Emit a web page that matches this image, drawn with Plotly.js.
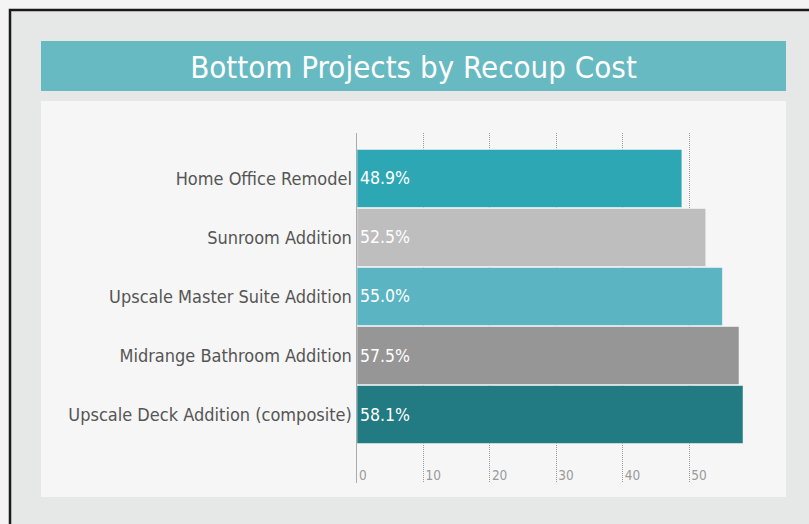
<!DOCTYPE html>
<html>
<head>
<meta charset="utf-8">
<script src="https://cdn.plot.ly/plotly-3.0.1.min.js"></script>
<style>
html,body{margin:0;padding:0;background:#f4f4f4;}
#chart{width:809px;height:524px;}
</style>
</head>
<body>
<div id="chart"></div>
<script>
const categories = [
  "Home Office Remodel",
  "Sunroom Addition",
  "Upscale Master Suite Addition",
  "Midrange Bathroom Addition",
  "Upscale Deck Addition (composite)"
];
const recoupValues = [48.9, 52.5, 55.0, 57.5, 58.1];
const barLabels = ["48.9%", "52.5%", "55.0%", "57.5%", "58.1%"];
const barColors = ["#2ea7b5", "#bebebe", "#5ab4c2", "#969696", "#227a82"];
const xTickValues = [0, 10, 20, 30, 40, 50];
const xTickLabels = ["0", "10", "20", "30", "40", "50"];
const chartTitle = "Bottom Projects by Recoup Cost";

const FW = 809, FH = 524;
const L = 357, R = 60, T = 133, B = 41;
const PW = FW - L - R, PH = FH - T - B;
const px = v => (v - L) / PW;
const py = v => 1 - (v - T) / PH;

const FONT = '"DejaVu Sans Condensed", "Liberation Sans Narrow", sans-serif';

const shapes = [
  {type:'rect', xref:'paper', yref:'paper', x0:px(10), x1:px(820), y0:py(10), y1:py(540),
   fillcolor:'#e6e8e8', line:{color:'#1a1a1a', width:2.5}, layer:'below'},
  {type:'rect', xref:'paper', yref:'paper', x0:px(41), x1:px(786), y0:py(41), y1:py(91),
   fillcolor:'#67b9c2', line:{width:0}, layer:'below'},
  {type:'rect', xref:'paper', yref:'paper', x0:px(41), x1:px(786), y0:py(101), y1:py(497),
   fillcolor:'#f6f6f6', line:{width:0}, layer:'below'}
];

const trace = {
  type: 'bar',
  orientation: 'h',
  y: categories,
  x: recoupValues,
  text: barLabels,
  textposition: 'inside',
  insidetextanchor: 'start',
  textangle: 0,
  textfont: {family: FONT, size: 17.5, color: '#ffffff'},
  marker: {color: barColors, line: {color: 'rgba(255,255,255,0.5)', width: 1}},
  hoverinfo: 'none',
  cliponaxis: false
};

const layout = {
  width: FW, height: FH,
  margin: {l: L, r: R, t: T, b: B, pad: 0},
  paper_bgcolor: '#f4f4f4',
  plot_bgcolor: 'rgba(0,0,0,0)',
  showlegend: false,
  bargap: 0.015,
  title: {
    text: chartTitle,
    xref: 'container', yref: 'container',
    x: 413.5 / FW, y: 1 - 67 / FH,
    xanchor: 'center', yanchor: 'middle',
    font: {family: FONT, size: 31, color: '#ffffff', weight: 300}
  },
  xaxis: {
    range: [0, 59],
    tickvals: xTickValues,
    ticktext: xTickLabels,
    ticklabelposition: 'inside right',
    ticklabelstandoff: -6,
    ticklabelshift: 2,
    tickfont: {family: FONT, size: 13.5, color: '#9a9a9a'},
    showgrid: true,
    gridcolor: '#9a9a9a',
    griddash: '1px,1px',
    gridwidth: 1,
    zeroline: false,
    showline: false,
    ticks: '',
    fixedrange: true
  },
  yaxis: {
    type: 'category',
    range: [5.16, -0.77],
    showline: true,
    linecolor: '#aaaaaa',
    linewidth: 1.5,
    showgrid: false,
    zeroline: false,
    ticks: '',
    ticklabelstandoff: 0,
    tickfont: {family: FONT, size: 18, color: '#555555'},
    fixedrange: true
  },
  shapes: shapes
};

Plotly.newPlot('chart', [trace], layout, {displayModeBar: false, staticPlot: true});
</script>
</body>
</html>
